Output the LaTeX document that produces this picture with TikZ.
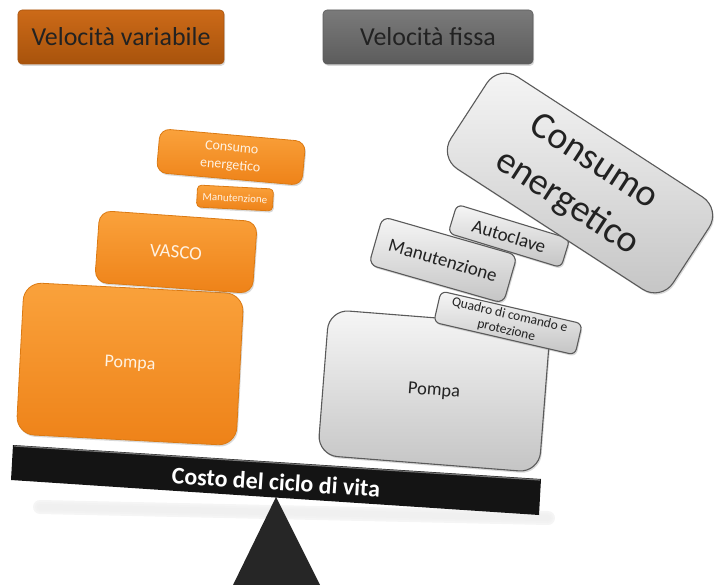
\documentclass[tikz,border=0pt]{standalone}
\usepackage{fontspec}
\setmainfont{Carlito}
\usetikzlibrary{shadows}

\definecolor{arancioA}{HTML}{FAA23C}
\definecolor{arancioB}{HTML}{EE8218}
\definecolor{bordoArancio}{HTML}{DC7A12}
\definecolor{marroneA}{HTML}{CC6A18}
\definecolor{marroneB}{HTML}{A8530C}
\definecolor{grigioA}{HTML}{7A7A7A}
\definecolor{grigioB}{HTML}{5C5C5C}
\definecolor{chiaroA}{HTML}{F6F6F6}
\definecolor{chiaroB}{HTML}{C4C4C4}
\definecolor{bordoGrigio}{HTML}{5A5A5A}
\definecolor{testoChiaro}{HTML}{FFF2E2}
\definecolor{testoScuro}{HTML}{222222}

\begin{document}
\begin{tikzpicture}[x=1bp, y=-1bp,
	box/.style={draw, rounded corners=#1, inner sep=0pt, align=center,
		drop shadow={shadow xshift=1.2bp, shadow yshift=-1.8bp, opacity=.3}},
	arancio/.style={box=#1, draw=bordoArancio, top color=arancioA, bottom color=arancioB, text=testoChiaro, line width=.8bp},
	grigio/.style={box=#1, draw=bordoGrigio, top color=chiaroA, bottom color=chiaroB, text=testoScuro, line width=1.1bp},
	titolo/.style={box=4bp, line width=.6bp, minimum height=54bp, text=testoScuro, font=\fontsize{26}{30}\selectfont}]
	\def\ang{-3.7}

	\useasboundingbox (0,0) rectangle (723,585);

	% titoli
	\node[titolo, draw=marroneB, top color=marroneA, bottom color=marroneB, minimum width=206bp] (vv) at (121,37) {Velocità variabile};
	\node[titolo, draw=grigioB, top color=grigioA, bottom color=grigioB, minimum width=210bp] (vf) at (428,37) {Velocità fissa};

	% ombra, fulcro e trave
	\foreach \w/\c in {14/4, 10/5, 6/6}
		\draw[line width=\w bp, black!\c, line cap=round]	(40,507) -- (548,518);
	\fill[black!85]	(276,497) -- (320,585) -- (233,585) -- cycle;
	\fill[black!92]	(13,445) -- (541,479) -- (539,515) -- (11,480) -- cycle;
	\draw[black!55, line width=1.2bp]	(14,446) -- (540,480);
	\node[rotate=\ang, text=white, font=\bfseries\fontsize{24}{28}\selectfont] (costo) at (276,482) {Costo del ciclo di vita};

	% velocita variabile
	\node[arancio=18bp, minimum width=220bp, minimum height=152bp, rotate=-3, font=\fontsize{18}{20}\selectfont] (pompaSx) at (130,364) {Pompa};
	\node[arancio=12bp, minimum width=158bp, minimum height=72bp, rotate=-4, font=\fontsize{19}{21}\selectfont] (vasco) at (176,252) {VASCO};
	\node[arancio=4bp, minimum width=76bp, minimum height=22bp, rotate=-3, font=\fontsize{11}{12}\selectfont] (manSx) at (235,198) {Manutenzione};
	\node[arancio=10bp, minimum width=146bp, minimum height=44bp, rotate=-5, font=\fontsize{14}{18}\selectfont] (consSx) at (231,157) {Consumo\\energetico};

	% velocita fissa
	\node[grigio=20bp, minimum width=222bp, minimum height=146bp, rotate=-4.5, font=\fontsize{18.5}{21}\selectfont] (pompaDx) at (434,391) {Pompa};
	\node[grigio=6bp, minimum width=145bp, minimum height=32bp, rotate=-13, font=\fontsize{13.5}{15.5}\selectfont] (quadro) at (508,323) {Quadro di comando e\\protezione};
	\node[grigio=6bp, minimum width=118bp, minimum height=30bp, rotate=-17, font=\fontsize{19}{21}\selectfont] (autoclave) at (509,236) {Autoclave};
	\node[grigio=8bp, minimum width=140bp, minimum height=50bp, rotate=-16, font=\fontsize{19}{21}\selectfont] (manDx) at (443,260) {Manutenzione};
	\node[grigio=22bp, minimum width=265bp, minimum height=110bp, rotate=-33, font=\fontsize{38}{49}\selectfont] (consDx) at (580,183) {Consumo\\energetico};
\end{tikzpicture}
\end{document}
